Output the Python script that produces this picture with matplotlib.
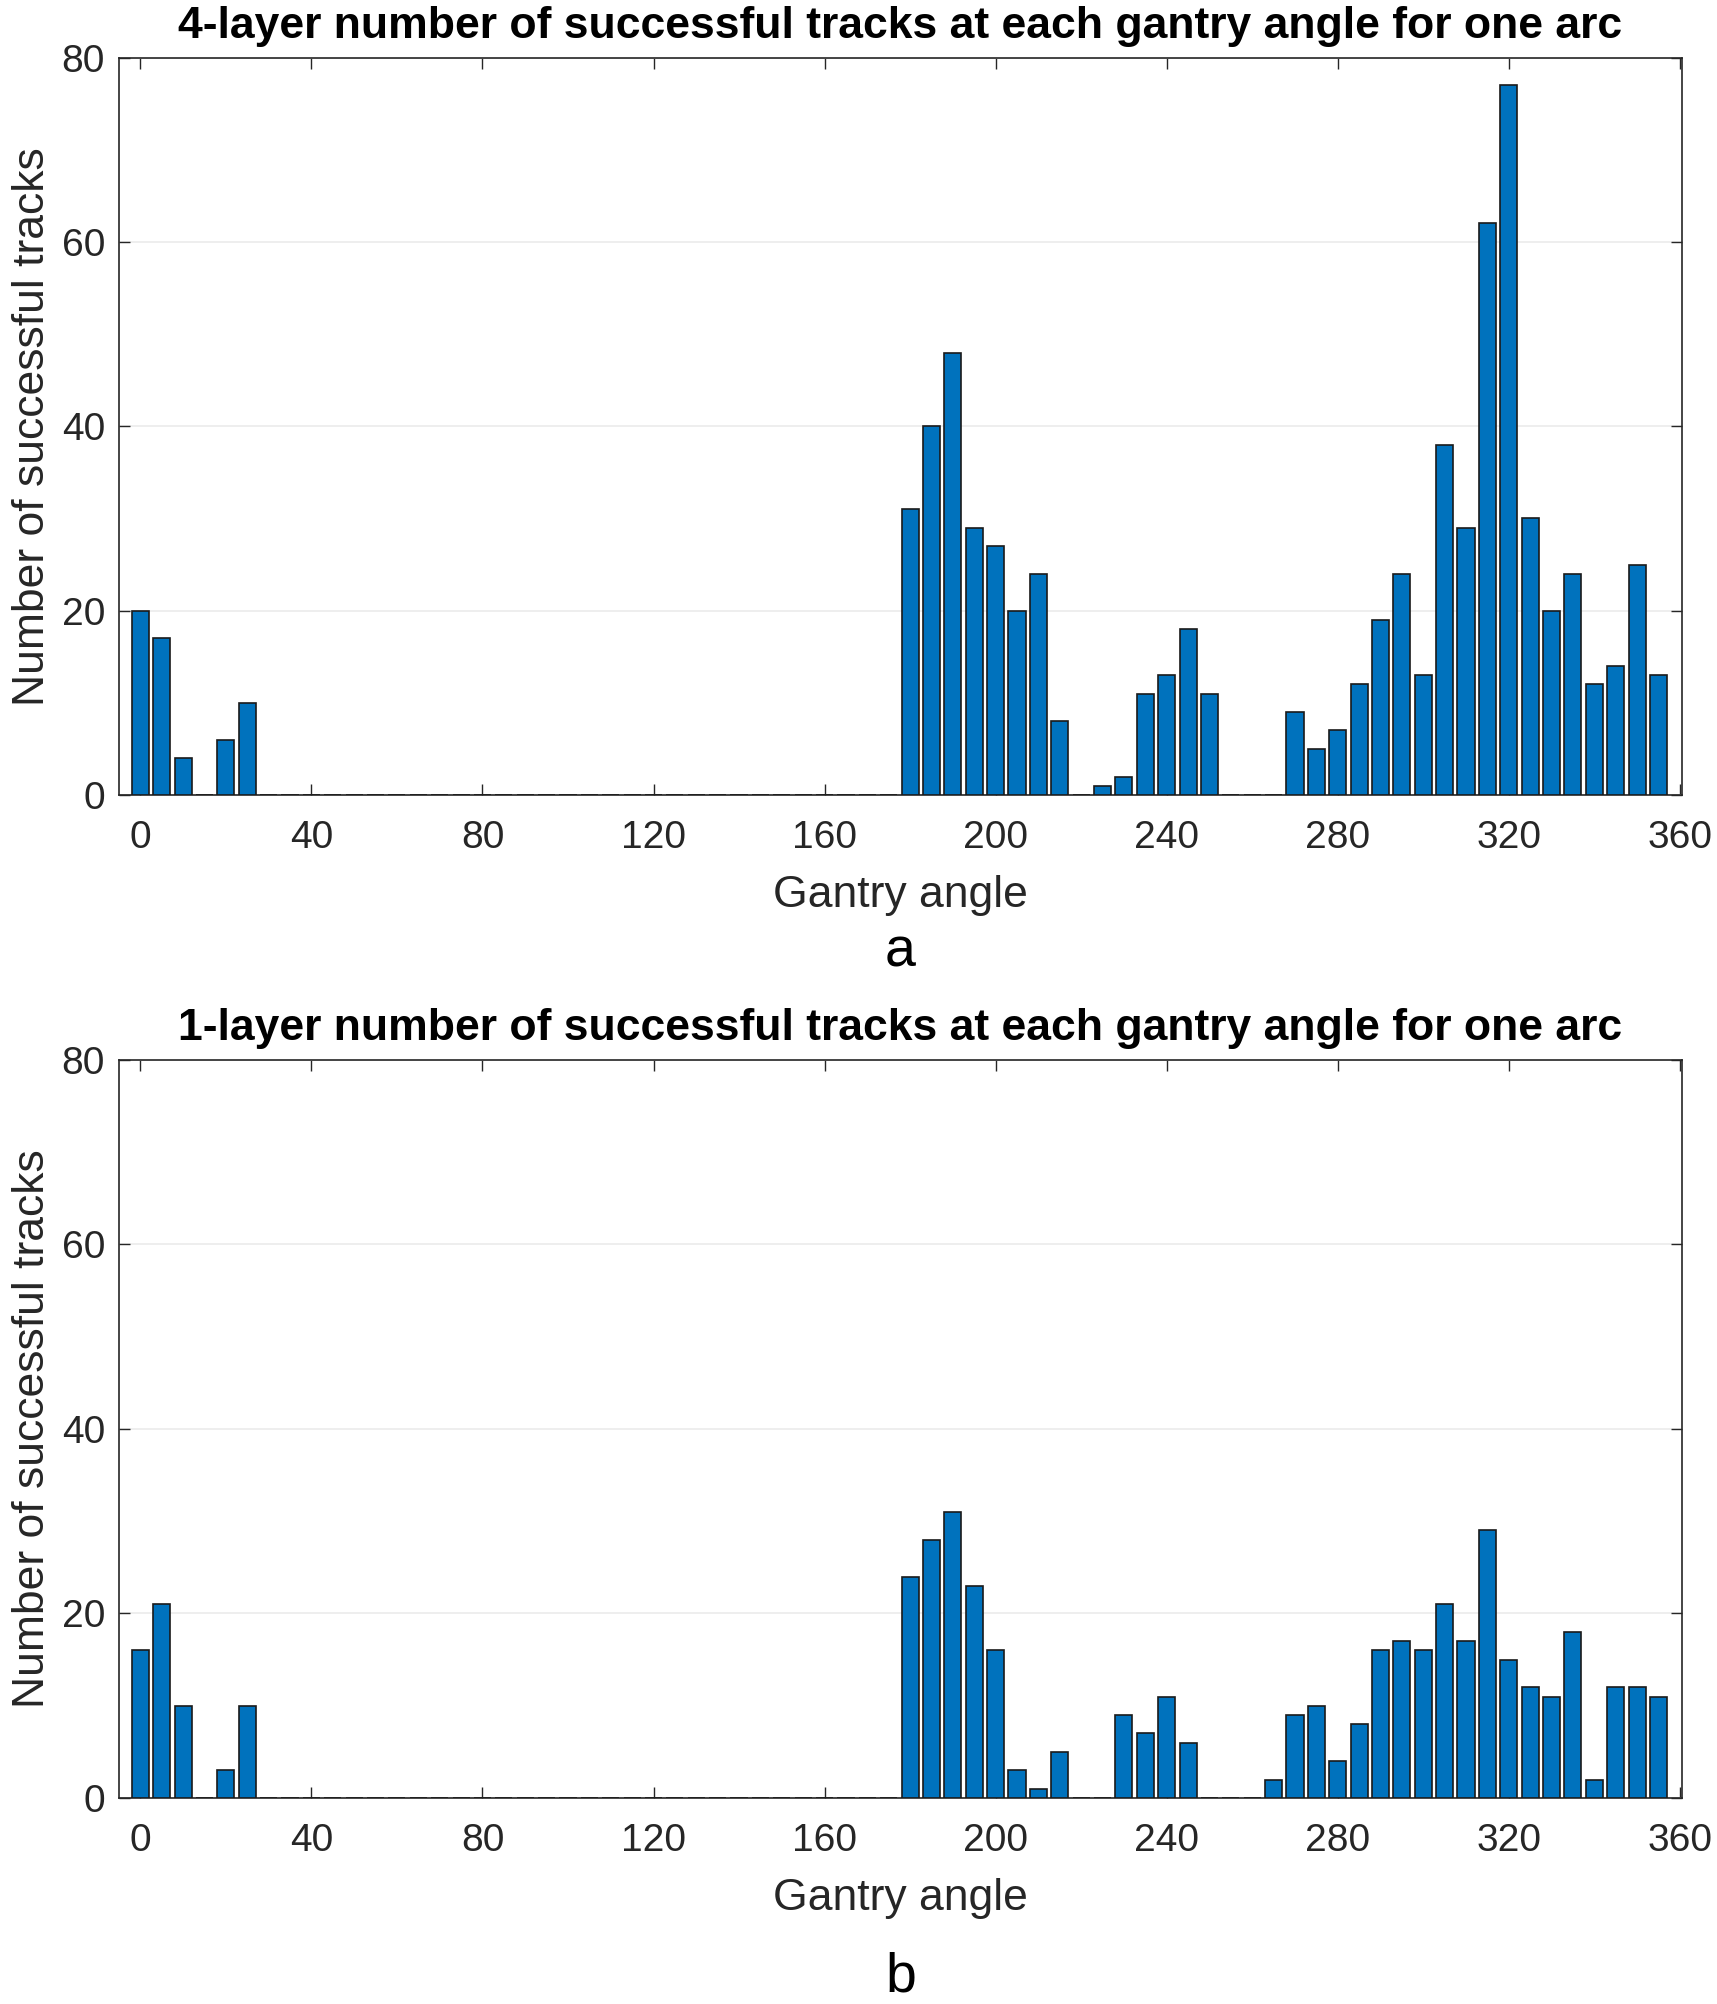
import matplotlib.pyplot as plt
import numpy as np

plt.rcParams['font.family'] = ['Liberation Sans', 'DejaVu Sans']

# gantry angles, one bar every 5 degrees
angles = np.arange(0, 360, 5)

# 4-layer counts, 0..355 deg
tracks_4layer = [20, 17, 4, 0, 6, 10, 0, 0, 0, 0, 0, 0,
                 0, 0, 0, 0, 0, 0, 0, 0, 0, 0, 0, 0,
                 0, 0, 0, 0, 0, 0, 0, 0, 0, 0, 0, 0,
                 31, 40, 48, 29, 27, 20, 24, 8, 0, 1, 2, 11,
                 13, 18, 11, 0, 0, 0, 9, 5, 7, 12, 19, 24,
                 13, 38, 29, 62, 77, 30, 20, 24, 12, 14, 25, 13]

# 1-layer counts, 0..355 deg
tracks_1layer = [16, 21, 10, 0, 3, 10, 0, 0, 0, 0, 0, 0,
                 0, 0, 0, 0, 0, 0, 0, 0, 0, 0, 0, 0,
                 0, 0, 0, 0, 0, 0, 0, 0, 0, 0, 0, 0,
                 24, 28, 31, 23, 16, 3, 1, 5, 0, 0, 9, 7,
                 11, 6, 0, 0, 0, 2, 9, 10, 4, 8, 16, 17,
                 16, 21, 17, 29, 15, 12, 11, 18, 2, 12, 12, 11]

titles = ['4-layer number of successful tracks at each gantry angle for one arc',
          '1-layer number of successful tracks at each gantry angle for one arc']
panel_labels = ['a', 'b']
xticks = np.arange(0, 361, 40)
yticks = np.arange(0, 81, 20)

fig = plt.figure(figsize=(17.17, 20.04), dpi=100)
axes_pos = [[0.0693, 0.6033, 0.9103, 0.3680],
            [0.0693, 0.1028, 0.9103, 0.3683]]
label_y = [-0.213, -0.243]

for pos, vals, title, lab, ly in zip(axes_pos, [tracks_4layer, tracks_1layer], titles, panel_labels, label_y):
    ax = fig.add_axes(pos)
    ax.bar(angles, vals, width=4, color='#0072BD', edgecolor='#1a1a1a', linewidth=1.2, zorder=3)
    ax.set_xlim(-5, 360.5)
    ax.set_ylim(0, 80)
    ax.set_xticks(xticks)
    ax.set_yticks(yticks)
    ax.tick_params(direction='in', top=True, right=True, length=8, width=1,
                   color='#262626', labelsize=28, labelcolor='#262626')
    ax.tick_params(axis='x', pad=18)
    ax.tick_params(axis='y', pad=10)
    ax.yaxis.grid(True, color='#ebebeb', linewidth=1.2, zorder=0)
    for s in ax.spines.values():
        s.set_color('#262626')
        s.set_linewidth(1.2)
    ax.set_title(title, fontsize=32, fontweight='bold', color='black', pad=14)
    ax.set_xlabel('Gantry angle', fontsize=32, color='#262626', labelpad=14)
    ax.set_ylabel('Number of successful tracks', fontsize=32, color='#262626', labelpad=6)
    ax.text(0.5, ly, lab, transform=ax.transAxes, ha='center', va='center',
            fontsize=40, color='black')

fig.savefig('out.png', dpi=100, facecolor='white')
